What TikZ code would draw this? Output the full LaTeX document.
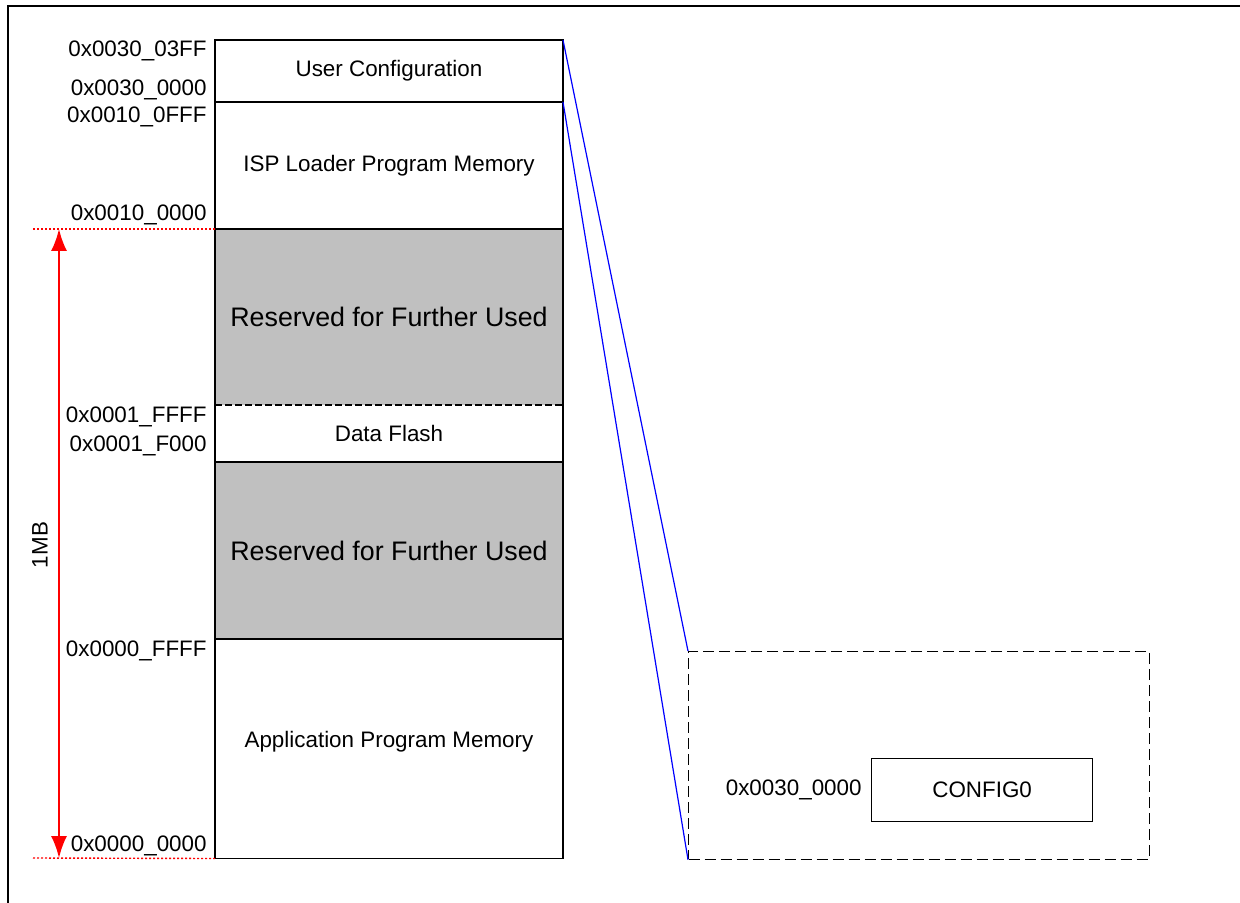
\documentclass[tikz,border=0pt]{standalone}
\usepackage{fontspec}
\setmainfont{Liberation Sans}
\usetikzlibrary{arrows.meta,positioning}
\definecolor{memGray}{HTML}{C0C0C0}
\definecolor{memBlue}{HTML}{0000FF}
\definecolor{memRed}{HTML}{FF0000}

\begin{document}
\begin{tikzpicture}[
  x=0.5pt,y=-0.5pt,
  every node/.style={font=\fontsize{11.2}{13}\selectfont},
  region/.style={minimum width=174pt,inner sep=0pt,outer sep=0pt},
  reserved/.style={region,fill=memGray,font=\fontsize{13.4}{15}\selectfont},
  addr/.style={anchor=east,inner sep=0pt},
  edge/.style={line width=0.75pt},
  bound/.style={memRed,line width=0.7pt,dash pattern=on 1pt off 1pt},
  zoomline/.style={memBlue,line width=0.6pt},
  span/.style={{Latex[length=11pt,width=8pt]}-{Latex[length=11pt,width=8pt]},memRed,line width=1pt}
]
  \useasboundingbox (0,0) rectangle (1240,903);
  % frame, cut at right and bottom
  \draw[line width=1pt] (8,903) -- (8,6) -- (1240,6);

  % memory map column
  \node[region,minimum height=31pt,anchor=north west] (uc) at (215,40) {User Configuration};
  \node[region,minimum height=63.5pt,below=0pt of uc] (isp) {\raisebox{-1pt}{ISP Loader Program Memory}};
  \node[reserved,minimum height=88pt,below=0pt of isp] (rsv1) {Reserved for Further Used};
  \node[region,minimum height=28.5pt,below=0pt of rsv1] (df) {Data Flash};
  \node[reserved,minimum height=88.5pt,below=0pt of df] (rsv2) {Reserved for Further Used};
  \node[region,minimum height=109.75pt,below=0pt of rsv2] (app) {\raisebox{0.75pt}[0pt][0pt]{Application Program Memory}};

  \draw[edge] (uc.north west) rectangle (app.south east);
  \draw[edge] (uc.south west) -- (uc.south east);
  \draw[edge] (isp.south west) -- (isp.south east);
  \draw[edge,dash pattern=on 3.5pt off 1.5pt] (df.north west) -- (df.north east);
  \draw[edge] (df.south west) -- (df.south east);
  \draw[edge] (rsv2.south west) -- (rsv2.south east);

  % addresses
  \node[addr] (a1) at (207,51) {0x0030\_03FF};
  \node[addr] (a2) at (207,90) {0x0030\_0000};
  \node[addr] (a3) at (207,117) {0x0010\_0FFF};
  \node[addr] (a4) at (207,215) {0x0010\_0000};
  \node[addr] (a5) at (207,417) {0x0001\_FFFF};
  \node[addr] (a6) at (207,446) {0x0001\_F000};
  \node[addr] (a7) at (207,651) {0x0000\_FFFF};
  \node[addr] (a8) at (207,846) {0x0000\_0000};

  % 1MB span
  \coordinate (mbtop) at (33,229);
  \coordinate (mbbot) at (33,858);
  \draw[bound] (mbtop) -- (rsv1.north west);
  \draw[bound] (mbbot) -- (app.south west);
  \coordinate (artop) at (59,229);
  \coordinate (arbot) at (59,858);
  \draw[span] (artop) -- (arbot);
  \node[rotate=90] (mb) at (40,545) {1MB};

  % user configuration detail
  \node[draw,line width=0.6pt,dash pattern=on 5.5pt off 2.5pt,minimum width=230.5pt,
    minimum height=103.75pt,anchor=north west,inner sep=0pt] (cfgview) at (688,651) {};
  \node[draw,line width=0.6pt,minimum width=110.5pt,minimum height=31.5pt,
    anchor=north west,inner sep=0pt] (cfg0) at (871,758) {CONFIG0};
  \node[addr,left=4.5pt of cfg0] (a9) {0x0030\_0000};

  \draw[zoomline] (uc.north east) -- (cfgview.north west);
  \draw[zoomline] (uc.south east) -- (cfgview.south west);
\end{tikzpicture}
\end{document}
